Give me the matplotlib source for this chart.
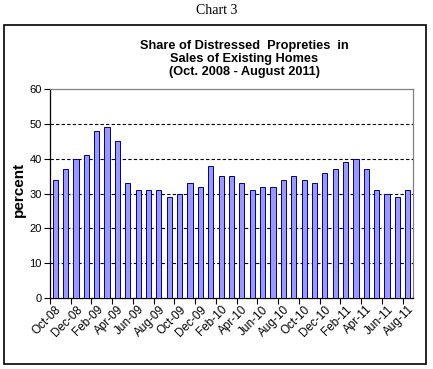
"""
Chart 3: share of distressed properties in sales of existing homes, monthly bars.
"""
import matplotlib
matplotlib.use("Agg")
import matplotlib.pyplot as plt
import matplotlib.patches as mpatches
import numpy as np

months = ["Oct-08", "Nov-08", "Dec-08", "Jan-09", "Feb-09", "Mar-09", "Apr-09",
          "May-09", "Jun-09", "Jul-09", "Aug-09", "Sep-09", "Oct-09", "Nov-09",
          "Dec-09", "Jan-10", "Feb-10", "Mar-10", "Apr-10", "May-10", "Jun-10",
          "Jul-10", "Aug-10", "Sep-10", "Oct-10", "Nov-10", "Dec-10", "Jan-11",
          "Feb-11", "Mar-11", "Apr-11", "May-11", "Jun-11", "Jul-11", "Aug-11"]
share = [34, 37, 40, 41, 48, 49, 45, 33, 31, 31, 31, 29, 30, 33, 32, 38, 35, 35,
         33, 31, 32, 32, 34, 35, 34, 33, 36, 37, 39, 40, 37, 31, 30, 29, 31]
y_ticks = [0, 10, 20, 30, 40, 50, 60]

fig = plt.figure(figsize=(4.33, 3.69), dpi=100)

# outer frame + caption above it
fig.patches.append(mpatches.Rectangle((4 / 433, 1 - 364 / 369), 422 / 433, 339 / 369,
                                      transform=fig.transFigure, fill=False,
                                      edgecolor="black", linewidth=1.2))
fig.text(0.5, 1 - 10 / 369, "Chart 3", ha="center", va="center",
         family="Liberation Serif", fontsize=10)
fig.text(244 / 433, 1 - 59 / 369,
         "Share of Distressed  Propreties  in\nSales of Existing Homes\n(Oct. 2008 - August 2011)",
         ha="center", va="center", family="Liberation Sans", fontweight="bold",
         fontsize=9.2, linespacing=1.15)

ax = fig.add_axes([50 / 433, 1 - 298 / 369, 363 / 433, 209 / 369])
x = np.arange(len(months))
ax.bar(x, share, width=0.5, color="#9999ff", edgecolor="#000080", linewidth=0.7, zorder=3)

ax.set_xlim(-0.5, len(months) - 0.5)
ax.set_ylim(0, 60)
ax.set_yticks(y_ticks)
ax.set_yticklabels([str(v) for v in y_ticks], family="Liberation Sans", fontsize=8)
for v in y_ticks[1:-1]:
    ax.axhline(v, color="black", linestyle=(0, (3, 2)), linewidth=0.8, zorder=1)

ax.set_xticks(x[::2])
ax.set_xticklabels(months[::2], rotation=45, ha="right", rotation_mode="anchor",
                   family="Liberation Sans", fontsize=8.5)
ax.tick_params(axis="x", which="major", length=0, pad=4)
ax.set_xticks(np.arange(-0.5, len(months), 2), minor=True)
ax.tick_params(axis="x", which="minor", length=4, direction="out", width=0.8)
ax.tick_params(axis="y", length=4, width=0.8, pad=2)

ax.set_ylabel("percent", family="Liberation Sans", fontweight="bold", fontsize=11)
ax.yaxis.set_label_coords(-0.066, 0.52)

for side in ("top", "right"):
    ax.spines[side].set_color("#808080")
for side in ("left", "bottom"):
    ax.spines[side].set_color("black")
for s in ax.spines.values():
    s.set_linewidth(0.9)

fig.savefig("out.png", dpi=100)
